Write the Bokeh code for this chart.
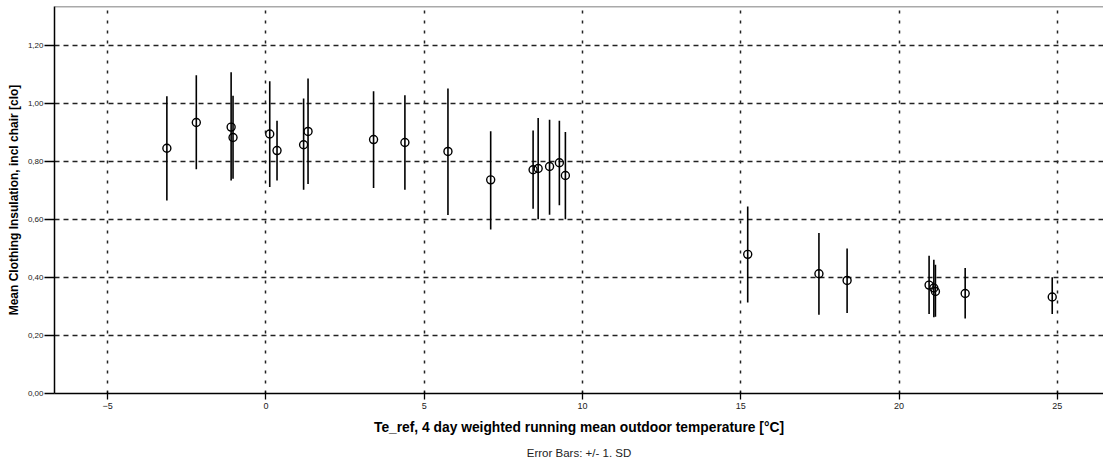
from bokeh.plotting import figure
from bokeh.models import (ColumnDataSource, FixedTicker, CustomJSTickFormatter,
                          Span, Title, Range1d)
from bokeh.embed import file_html
from bokeh.resources import INLINE

# Data (temperature, mean clo, mean +/- 1 SD)
temp = [-3.13, -2.20, -1.10, -1.04, 0.12, 0.35, 1.19, 1.33, 3.40, 4.39, 5.75,
        7.10, 8.44, 8.60, 8.96, 9.27, 9.46, 15.22, 17.47, 18.36, 20.95, 21.10,
        21.15, 22.09, 24.84]
mean_clo = [0.846, 0.935, 0.919, 0.883, 0.895, 0.838, 0.858, 0.904, 0.876,
            0.866, 0.835, 0.737, 0.772, 0.776, 0.783, 0.796, 0.752, 0.480,
            0.413, 0.390, 0.374, 0.364, 0.352, 0.345, 0.333]
upper = [1.025, 1.098, 1.108, 1.027, 1.077, 0.941, 1.018, 1.087, 1.043, 1.029,
         1.052, 0.905, 0.907, 0.950, 0.944, 0.941, 0.902, 0.645, 0.554, 0.500,
         0.475, 0.461, 0.444, 0.433, 0.401]
lower = [0.666, 0.774, 0.735, 0.741, 0.712, 0.735, 0.703, 0.723, 0.709, 0.703,
         0.616, 0.566, 0.637, 0.601, 0.617, 0.649, 0.601, 0.314, 0.272, 0.278,
         0.274, 0.263, 0.265, 0.259, 0.274]

x_ticks = [-5, 0, 5, 10, 15, 20, 25]
y_ticks = [0.0, 0.2, 0.4, 0.6, 0.8, 1.0, 1.2]

x_title = "Te_ref, 4 day weighted running mean outdoor temperature [°C]"
y_title = "Mean Clothing Insulation, incl chair [clo]"
note = "Error Bars: +/- 1. SD"

src = ColumnDataSource(dict(t=temp, m=mean_clo, hi=upper, lo=lower))

p = figure(width=1103, height=469, output_backend="svg", toolbar_location=None,
           x_range=Range1d(-6.68, 26.46), y_range=Range1d(0, 1.335),
           min_border_left=54, min_border_right=0, min_border_top=6,
           min_border_bottom=76)
p.outline_line_color = None
p.background_fill_color = "white"
p.border_fill_color = "white"

# error bars
p.segment(x0="t", y0="lo", x1="t", y1="hi", source=src,
          line_color="black", line_width=1.6)
# means
p.scatter(x="t", y="m", source=src, marker="circle", size=8,
          fill_color="white", fill_alpha=0.0, line_color="black", line_width=1.4)

# top border
p.add_layout(Span(location=1.335, dimension="width", line_color="#555555",
                  line_width=1.5))

font = "Liberation Sans"

p.xaxis.ticker = FixedTicker(ticks=x_ticks)
p.yaxis.ticker = FixedTicker(ticks=y_ticks)
p.yaxis.formatter = CustomJSTickFormatter(code="return tick.toFixed(2).replace('.', ',');")

for ax in (p.xaxis, p.yaxis):
    ax.axis_line_color = "black"
    ax.axis_line_width = 1.5
    ax.major_tick_line_color = "black"
    ax.major_tick_line_width = 1.3
    ax.minor_tick_line_color = None
    ax.major_label_text_font = font
    ax.major_label_text_color = "#222222"
    ax.axis_label_text_font = font
    ax.axis_label_text_font_style = "bold"
    ax.axis_label_text_color = "black"

p.xaxis.major_label_text_font_size = "9px"
p.xaxis.major_tick_out = 6
p.xaxis.major_tick_in = 2
p.xaxis.major_label_standoff = 3
p.xaxis.axis_label = x_title
p.xaxis.axis_label_text_font_size = "13.8px"
p.xaxis.axis_label_standoff = 8

p.yaxis.major_label_text_font_size = "8px"
p.yaxis.major_tick_out = 10
p.yaxis.major_tick_in = 0
p.yaxis.major_label_standoff = 1
p.yaxis.axis_label = y_title
p.yaxis.axis_label_text_font_size = "12px"
p.yaxis.axis_label_standoff = 4

p.xgrid.grid_line_color = "#222222"
p.xgrid.grid_line_width = 1.5
p.xgrid.grid_line_dash = "3 7"
p.ygrid.grid_line_color = "#222222"
p.ygrid.grid_line_width = 1.5
p.ygrid.grid_line_dash = "5 4"

p.add_layout(Title(text=note, align="center", offset=-24, standoff=14,
                   text_font=font, text_font_size="11.5px", text_font_style="normal",
                   text_color="#222222"), "below")

open("out.html", "w").write(file_html(p, INLINE))
